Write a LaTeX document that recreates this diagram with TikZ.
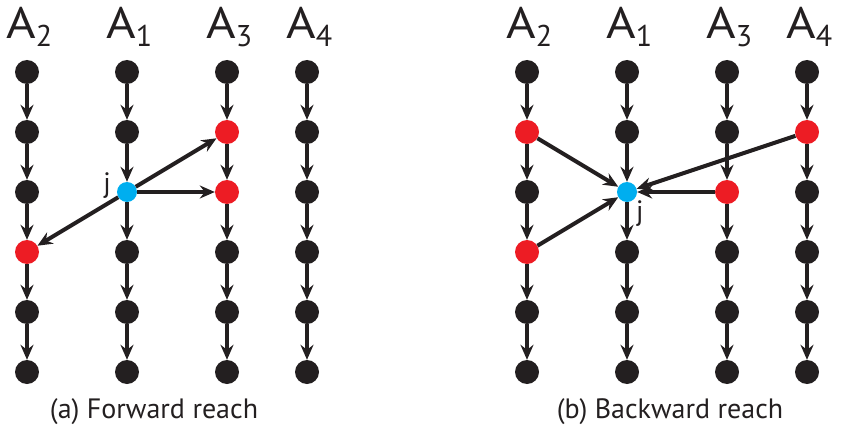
\documentclass[tikz,border=0pt]{standalone}
\usepackage{fontspec}
\setmainfont{PT Sans}
\usetikzlibrary{arrows.meta}
\definecolor{hitred}{HTML}{ED1C24}
\definecolor{srcblue}{HTML}{00AEEF}
\definecolor{inkblack}{HTML}{231F20}
\newcommand\agentlbl[1]{\scalebox{1.15}[1]{A}\raisebox{-8pt}{\fontsize{30}{30}\selectfont #1}}

\begin{document}
\begin{tikzpicture}[x=1pt, y=-1pt,
    dot/.style={circle, fill=inkblack, minimum size=24pt, inner sep=0pt},
    hit/.style={fill=hitred},
    src/.style={fill=srcblue, minimum size=20pt},
    flow/.style={-{Stealth[length=15pt,width=13pt,inset=5pt]}, line width=4pt, draw=inkblack},
    colname/.style={font=\fontsize{44}{44}\selectfont, text=inkblack, inner sep=0pt, anchor=base west},
    caption/.style={font=\fontsize{28}{28}\selectfont, text=inkblack, inner sep=0pt, anchor=base},
    jlbl/.style={font=\fontsize{28}{28}\selectfont, text=inkblack, inner sep=0pt},
    % coloured nodes of (a) and (b)
    a-3-2/.style=hit, a-3-3/.style=hit, a-2-4/.style=hit, a-1-3/.style=src,
    b-2-2/.style=hit, b-2-4/.style=hit, b-3-3/.style=hit, b-4-2/.style=hit, b-1-3/.style=src]
\useasboundingbox (0,0) rectangle (841,428);

% the agents, one column each
\foreach \p/\dx in {a/0, b/500}{
  \foreach \c/\x in {2/27, 1/127, 3/227, 4/307}{
    \node[colname] (\p-name-\c) at ({\x+\dx-21}, 39) {\agentlbl{\c}};
    \foreach \r in {1,...,6}
      \node[dot, \p-\c-\r/.try] (\p-\c-\r) at ({\x+\dx}, {12+60*\r}) {};
    \foreach \r [count=\s from 2] in {1,...,5}
      \draw[flow] (\p-\c-\r) -- (\p-\c-\s);
  }
}

% (a) forward reach
\draw[flow] (a-1-3) -- (a-3-2);
\draw[flow] (a-1-3) -- (a-3-3);
\draw[flow] (a-1-3) -- (a-2-4);
\node[jlbl, anchor=base east] (a-j) at (111,192) {j};
\node[caption] (a-cap) at (154,418) {(a) Forward reach};

% (b) backward reach
\draw[flow] (b-2-2) -- (b-1-3);
\draw[flow] (b-2-4) -- (b-1-3);
\draw[flow] (b-3-3) -- (b-1-3);
\draw[flow] (b-4-2) -- (b-1-3);
\node[jlbl, anchor=base west] (b-j) at (636,220) {j};
\node[caption] (b-cap) at (670,418) {(b) Backward reach};
\end{tikzpicture}
\end{document}
